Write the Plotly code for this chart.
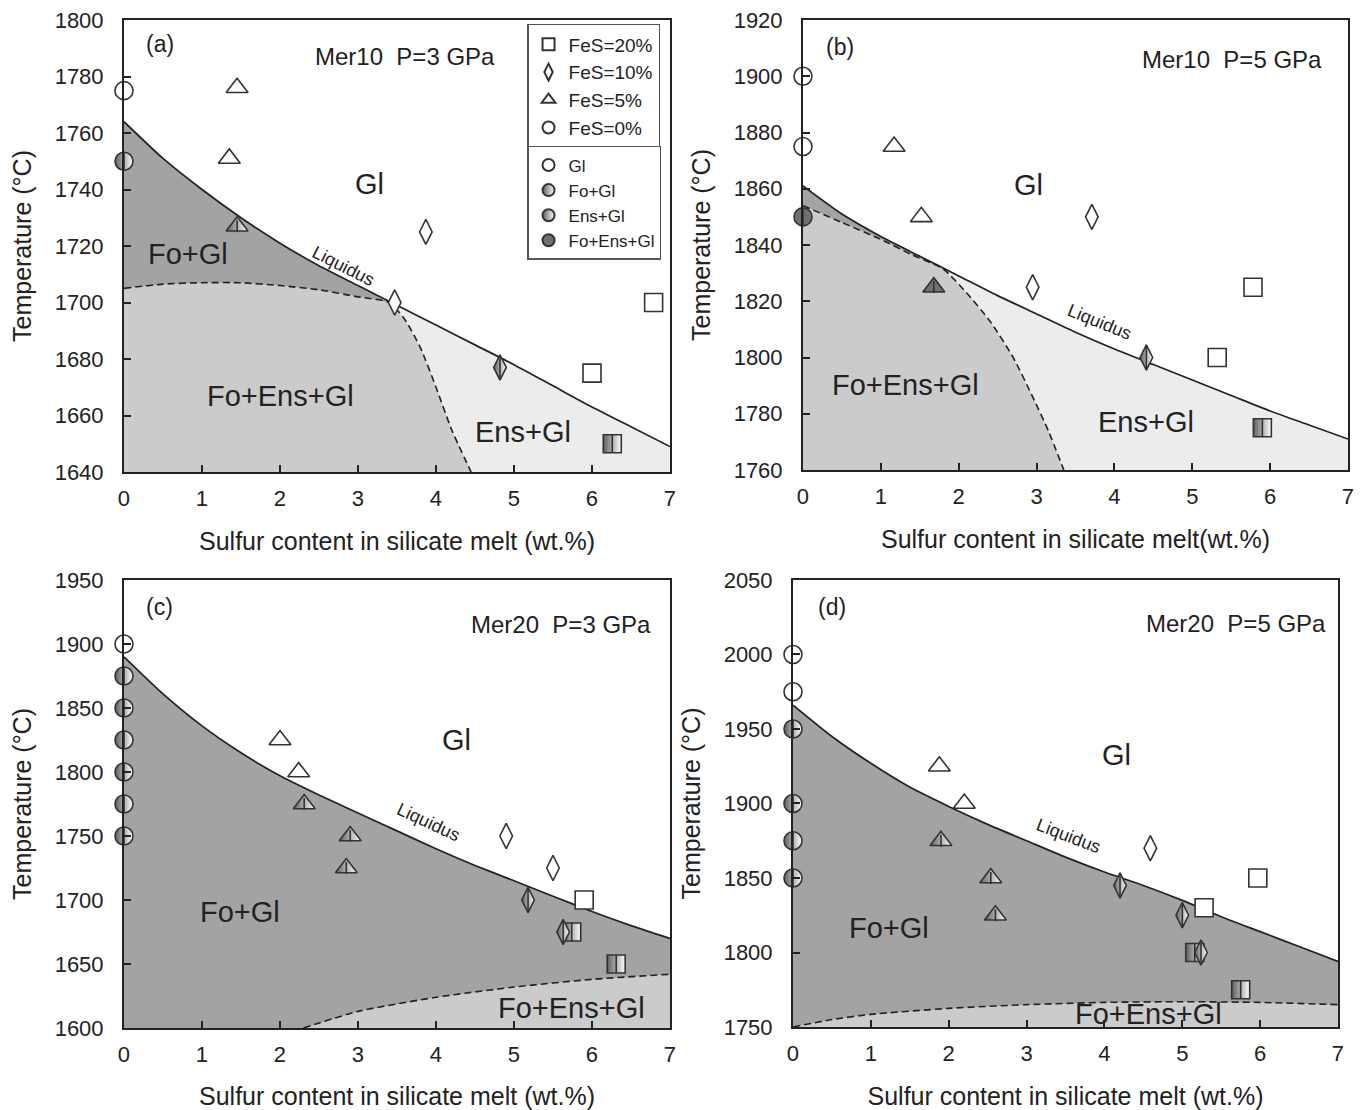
import plotly.graph_objects as go

FONT = "Liberation Sans, Arial, sans-serif"
TXT = "#222222"
EDGE = "#333333"
C_DARK = "#a3a3a3"    # Fo+Gl field
C_MED = "#cbcbcb"     # Fo+Ens+Gl field
C_LIGHT = "#ececec"   # Ens+Gl field
HALF = "#5e5e5e"
FULL = "#707070"

# ---------------- panel (a): Mer10, P = 3 GPa ----------------
a_liq_x = [0, 0.5, 1, 1.5, 2, 2.5, 3, 3.5, 4, 4.5, 5, 5.5, 6, 6.5, 7]
a_liq_t = [1764, 1751, 1740, 1730, 1721, 1713, 1706, 1699, 1692, 1685, 1678, 1670.5, 1663, 1656, 1649]
a_dash_x = [0, 0.5, 1, 1.5, 2, 2.5, 3, 3.4, 3.6, 3.8, 4.0, 4.2, 4.45]
a_dash_t = [1705, 1706.5, 1707, 1707, 1706, 1704.5, 1702, 1700, 1694, 1684, 1670, 1655, 1640]
a_junction = 3.4
a_x = [0, 0, 1.45, 1.35, 1.45, 3.87, 3.47, 4.82, 6.79, 6.0, 6.26]
a_t = [1775, 1750, 1776, 1751, 1727, 1725, 1700, 1677, 1700, 1675, 1650]
a_fes = [0, 0, 5, 5, 5, 10, 10, 10, 20, 20, 20]
a_phase = ["Gl", "Fo+Gl", "Gl", "Gl", "Fo+Gl", "Gl", "Gl", "Ens+Gl", "Gl", "Gl", "Ens+Gl"]

# ---------------- panel (b): Mer10, P = 5 GPa ----------------
b_liq_x = [0, 0.5, 1, 1.5, 2, 2.5, 3, 3.5, 4, 4.5, 5, 5.5, 6, 6.5, 7]
b_liq_t = [1861, 1851, 1843, 1836, 1829, 1822, 1815.5, 1809, 1803, 1797.5, 1792, 1786.5, 1781, 1776, 1771]
b_dash_x = [0, 0.5, 1.0, 1.4, 1.8, 2.1, 2.4, 2.7, 2.95, 3.15, 3.35]
b_dash_t = [1854, 1848, 1842, 1836.5, 1831.5, 1823, 1813, 1800, 1786, 1774, 1760]
b_junction = 1.8
b_x = [0, 0, 0, 1.17, 1.52, 1.68, 3.71, 2.95, 4.41, 5.78, 5.32, 5.9]
b_t = [1900, 1875, 1850, 1875, 1850, 1825, 1850, 1825, 1800, 1825, 1800, 1775]
b_fes = [0, 0, 0, 5, 5, 5, 10, 10, 10, 20, 20, 20]
b_phase = ["Gl", "Gl", "Fo+Ens+Gl", "Gl", "Gl", "Fo+Ens+Gl", "Gl", "Gl", "Ens+Gl", "Gl", "Gl", "Ens+Gl"]

# ---------------- panel (c): Mer20, P = 3 GPa ----------------
c_liq_x = [0, 0.5, 1, 1.5, 2, 2.5, 3, 3.5, 4, 4.5, 5, 5.5, 6, 6.5, 7]
c_liq_t = [1890, 1861, 1836, 1815, 1797, 1782, 1768, 1754, 1740, 1727, 1715, 1703, 1691, 1680, 1670]
c_dash_x = [2.3, 3, 4, 5, 6, 7]
c_dash_t = [1600, 1613, 1624, 1632, 1638, 1642]
c_x = [0, 0, 0, 0, 0, 0, 0, 2.0, 2.24, 2.31, 2.9, 2.85, 4.9, 5.5, 5.18, 5.63, 5.9, 5.74, 6.31]
c_t = [1900, 1875, 1850, 1825, 1800, 1775, 1750, 1825, 1800, 1775, 1750, 1725,
       1750, 1725, 1700, 1675, 1700, 1675, 1650]
c_fes = [0, 0, 0, 0, 0, 0, 0, 5, 5, 5, 5, 5, 10, 10, 10, 10, 20, 20, 20]
c_phase = ["Gl", "Fo+Gl", "Fo+Gl", "Fo+Gl", "Fo+Gl", "Fo+Gl", "Fo+Gl",
           "Gl", "Gl", "Fo+Gl", "Fo+Gl", "Fo+Gl",
           "Gl", "Gl", "Fo+Gl", "Fo+Gl", "Gl", "Fo+Gl", "Fo+Gl"]

# ---------------- panel (d): Mer20, P = 5 GPa ----------------
d_liq_x = [0, 0.5, 1, 1.5, 2, 2.5, 3, 3.5, 4, 4.5, 5, 5.5, 6, 6.5, 7]
d_liq_t = [1966, 1945, 1927, 1911, 1898, 1886, 1875, 1864, 1854, 1845, 1835, 1824, 1814, 1804, 1794]
d_dash_x = [0, 0.5, 1, 2, 3, 4, 5, 6, 7]
d_dash_t = [1750, 1755, 1758.5, 1762.5, 1765, 1766.5, 1767, 1766.5, 1765]
d_x = [0, 0, 0, 0, 0, 0, 1.88, 2.2, 1.9, 2.54, 2.6, 4.59, 4.2, 5.0, 5.24, 5.97, 5.28, 5.16, 5.75]
d_t = [2000, 1975, 1950, 1900, 1875, 1850, 1925, 1900, 1875, 1850, 1825,
       1870, 1845, 1825, 1800, 1850, 1830, 1800, 1775]
d_fes = [0, 0, 0, 0, 0, 0, 5, 5, 5, 5, 5, 10, 10, 10, 10, 20, 20, 20, 20]
d_phase = ["Gl", "Gl", "Fo+Gl", "Fo+Gl", "Fo+Gl", "Fo+Gl",
           "Gl", "Gl", "Fo+Gl", "Fo+Gl", "Fo+Gl",
           "Gl", "Fo+Gl", "Fo+Gl", "Fo+Gl", "Gl", "Gl", "Fo+Gl", "Fo+Gl"]

fes_levels = [20, 10, 5, 0]
fes_labels = ["FeS=20%", "FeS=10%", "FeS=5%", "FeS=0%"]
phase_labels = ["Gl", "Fo+Gl", "Ens+Gl", "Fo+Ens+Gl"]

SYM = {0: "circle", 5: "triangle-up", 10: "diamond-tall", 20: "square"}
SIZE = {0: 18, 5: 19, 10: 18, 20: 18}
LINE_SCALE = {0: 0.714, 5: 0.45, 10: 1.0, 20: 0.714}

fig = go.Figure()


def poly_fill(xs, ts, color, xa, ya):
    fig.add_trace(go.Scatter(x=xs, y=ts, mode="none", fill="toself", fillcolor=color,
                             xaxis=xa, yaxis=ya, showlegend=False, hoverinfo="skip"))


def under(xs, ts, base):
    return list(xs) + [xs[-1], xs[0]], list(ts) + [base, base]


def between(lx, lt, dx, dt, xj):
    # field enclosed by liquidus (top) and dashed boundary (bottom) left of junction
    tj = [t for x, t in zip(dx, dt) if x == xj][0]
    top = [(x, t) for x, t in zip(lx, lt) if x < xj] + [(xj, tj)]
    bot = [(x, t) for x, t in zip(dx, dt) if x < xj][::-1]
    pts = top + bot
    return [p[0] for p in pts], [p[1] for p in pts]


def curve(xs, ts, xa, ya, dash=None):
    fig.add_trace(go.Scatter(x=xs, y=ts, mode="lines",
                             line=dict(color="#222222", width=1.7 if dash is None else 1.6,
                                       dash=dash or "solid", shape="spline", smoothing=0.6),
                             xaxis=xa, yaxis=ya, showlegend=False, hoverinfo="skip"))


def marker_style(f, ph):
    m = dict(symbol=SYM[f], size=SIZE[f], color="white", line=dict(color=EDGE, width=1.6))
    if ph in ("Fo+Gl", "Ens+Gl"):
        m["color"] = HALF
        m["gradient"] = dict(type="horizontal", color="white")
    elif ph == "Fo+Ens+Gl":
        m["color"] = FULL
    return m


def points(xs, ts, fes, phase, xa, ya):
    for f in fes_levels:
        for ph in phase_labels:
            idx = [i for i in range(len(xs)) if fes[i] == f and phase[i] == ph]
            if not idx:
                continue
            px = [xs[i] for i in idx]
            pt = [ts[i] for i in idx]
            fig.add_trace(go.Scatter(x=px, y=pt, mode="markers", marker=marker_style(f, ph),
                                     xaxis=xa, yaxis=ya, showlegend=False, cliponaxis=False,
                                     hoverinfo="skip"))
            if ph != "Gl":
                fig.add_trace(go.Scatter(
                    x=px, y=pt, mode="markers",
                    marker=dict(symbol="line-ns", size=SIZE[f] * LINE_SCALE[f],
                                line=dict(color=EDGE, width=1.6)),
                    xaxis=xa, yaxis=ya, showlegend=False, cliponaxis=False, hoverinfo="skip"))


# ---- (a)
poly_fill(*under(a_liq_x, a_liq_t, 1640), C_LIGHT, "x", "y")
poly_fill(*under(a_dash_x, a_dash_t, 1640), C_MED, "x", "y")
poly_fill(*between(a_liq_x, a_liq_t, a_dash_x, a_dash_t, a_junction), C_DARK, "x", "y")
curve(a_liq_x, a_liq_t, "x", "y")
curve(a_dash_x, a_dash_t, "x", "y", dash="7px,4px")
points(a_x, a_t, a_fes, a_phase, "x", "y")

# ---- (b)
poly_fill(*under(b_liq_x, b_liq_t, 1760), C_LIGHT, "x2", "y2")
poly_fill(*under(b_dash_x, b_dash_t, 1760), C_MED, "x2", "y2")
poly_fill(*between(b_liq_x, b_liq_t, b_dash_x, b_dash_t, b_junction), C_DARK, "x2", "y2")
curve(b_liq_x, b_liq_t, "x2", "y2")
curve(b_dash_x, b_dash_t, "x2", "y2", dash="7px,4px")
points(b_x, b_t, b_fes, b_phase, "x2", "y2")

# ---- (c)
poly_fill(*under(c_liq_x, c_liq_t, 1600), C_DARK, "x3", "y3")
poly_fill(*under(c_dash_x, c_dash_t, 1600), C_MED, "x3", "y3")
curve(c_liq_x, c_liq_t, "x3", "y3")
curve(c_dash_x, c_dash_t, "x3", "y3", dash="7px,4px")
points(c_x, c_t, c_fes, c_phase, "x3", "y3")

# ---- (d)
poly_fill(*under(d_liq_x, d_liq_t, 1750), C_DARK, "x4", "y4")
poly_fill(*under(d_dash_x, d_dash_t, 1750), C_MED, "x4", "y4")
curve(d_liq_x, d_liq_t, "x4", "y4")
curve(d_dash_x, d_dash_t, "x4", "y4", dash="7px,4px")
points(d_x, d_t, d_fes, d_phase, "x4", "y4")

# ---- legends
for f, lab in zip(fes_levels, fes_labels):
    fig.add_trace(go.Scatter(x=[None], y=[None], mode="markers", name=lab,
                             marker=dict(symbol=SYM[f], size=14, color="white",
                                         line=dict(color=EDGE, width=1.5)),
                             legend="legend", xaxis="x", yaxis="y"))
for ph in phase_labels:
    m = marker_style(0, ph)
    m["size"] = 14
    fig.add_trace(go.Scatter(x=[None], y=[None], mode="markers", name=ph, marker=m,
                             legend="legend2", xaxis="x", yaxis="y"))


def axis_x(domain, anchor, title):
    return dict(domain=domain, anchor=anchor, range=[0, 7], dtick=1, tick0=0,
                showline=True, linecolor="#222222", linewidth=2, mirror=True,
                ticks="inside", ticklen=7, tickwidth=2, tickcolor="#222222",
                showgrid=False, zeroline=False, ticklabelstandoff=6, automargin=False,
                tickfont=dict(family=FONT, size=22, color=TXT),
                title=dict(text=title, font=dict(family=FONT, size=25, color=TXT), standoff=22))


def axis_y(domain, anchor, rng, dt):
    return dict(domain=domain, anchor=anchor, range=rng, dtick=dt, tick0=rng[0],
                showline=True, linecolor="#222222", linewidth=2, mirror=True,
                ticks="inside", ticklen=7, tickwidth=2, tickcolor="#222222",
                showgrid=False, zeroline=False, ticklabelstandoff=14, automargin=False,
                tickfont=dict(family=FONT, size=22, color=TXT),
                title=dict(text="Temperature (°C)", font=dict(family=FONT, size=25, color=TXT),
                           standoff=16))


XA = [0.09051, 0.48905]
XB = [0.58613, 0.98394]
XC = [0.09051, 0.48905]
XD = [0.57883, 0.97664]
YA = [0.57477, 0.98198]
YB = [0.57658, 0.98198]
YC = [0.07387, 0.47748]
YD = [0.07477, 0.47748]

title_std = "Sulfur content in silicate melt (wt.%)"
title_b = "Sulfur content in silicate melt(wt.%)"

annotations = []


def note(text, x, y, xr, yr, size, angle=0, anchor="center"):
    annotations.append(dict(text=text, x=x, y=y, xref=xr, yref=yr, showarrow=False,
                            textangle=angle, xanchor=anchor,
                            font=dict(family=FONT, size=size, color=TXT)))


NB = "\u00a0"
REG = 29
LIQ = 18
HDR = 24
# (a)
note("(a)", 0.46, 1791.5, "x", "y", 23)
note("Mer10" + NB + NB + "P=3 GPa", 3.6, 1787, "x", "y", HDR)
note("Gl", 3.15, 1742, "x", "y", REG)
note("Fo+Gl", 0.82, 1717, "x", "y", REG)
note("Fo+Ens+Gl", 2.01, 1667, "x", "y", REG)
note("Ens+Gl", 5.12, 1654, "x", "y", REG)
note("Liquidus", 2.81, 1713, "x", "y", LIQ, angle=27)
# (b)
note("(b)", 0.48, 1910.4, "x2", "y2", 23)
note("Mer10" + NB + NB + "P=5 GPa", 5.51, 1905.8, "x2", "y2", HDR)
note("Gl", 2.89, 1861.3, "x2", "y2", REG)
note("Fo+Ens+Gl", 1.32, 1790.2, "x2", "y2", REG)
note("Ens+Gl", 4.41, 1777, "x2", "y2", REG)
note("Liquidus", 3.81, 1812.6, "x2", "y2", LIQ, angle=22)
# (c)
note("(c)", 0.46, 1929, "x3", "y3", 23)
note("Mer20" + NB + NB + "P=3 GPa", 5.6, 1915.6, "x3", "y3", HDR)
note("Gl", 4.26, 1825, "x3", "y3", REG)
note("Fo+Gl", 1.49, 1690.6, "x3", "y3", REG)
note("Fo+Ens+Gl", 5.74, 1615.6, "x3", "y3", REG)
note("Liquidus", 3.9, 1761, "x3", "y3", LIQ, angle=25)
# (d)
note("(d)", 0.5, 2031.9, "x4", "y4", 23)
note("Mer20" + NB + NB + "P=5 GPa", 5.69, 2020.5, "x4", "y4", HDR)
note("Gl", 4.16, 1932.6, "x4", "y4", REG)
note("Fo+Gl", 1.23, 1816.4, "x4", "y4", REG)
note("Fo+Ens+Gl", 4.57, 1758.7, "x4", "y4", REG)
note("Liquidus", 3.54, 1878.2, "x4", "y4", LIQ, angle=21)

fig.update_layout(
    width=1370, height=1110,
    margin=dict(l=0, r=0, t=0, b=0, autoexpand=False),
    paper_bgcolor="white", plot_bgcolor="white",
    font=dict(family=FONT, color=TXT),
    xaxis=axis_x(XA, "y", title_std),
    yaxis=axis_y(YA, "x", [1640, 1800], 20),
    xaxis2=axis_x(XB, "y2", title_b),
    yaxis2=axis_y(YB, "x2", [1760, 1920], 20),
    xaxis3=axis_x(XC, "y3", title_std),
    yaxis3=axis_y(YC, "x3", [1600, 1950], 50),
    xaxis4=axis_x(XD, "y4", title_std),
    yaxis4=axis_y(YD, "x4", [1750, 2050], 50),
    legend=dict(x=0.3847, y=0.97838, xanchor="left", yanchor="top", bgcolor="white",
                bordercolor="#555555", borderwidth=1.5, font=dict(family=FONT, size=19, color=TXT),
                tracegroupgap=0, itemsizing="constant"),
    legend2=dict(x=0.3847, y=0.8685, xanchor="left", yanchor="top", bgcolor="white",
                 bordercolor="#555555", borderwidth=1.5, font=dict(family=FONT, size=17, color=TXT),
                 tracegroupgap=0, itemsizing="constant"),
    annotations=annotations,
    showlegend=True,
)

fig.write_html("out.html")
